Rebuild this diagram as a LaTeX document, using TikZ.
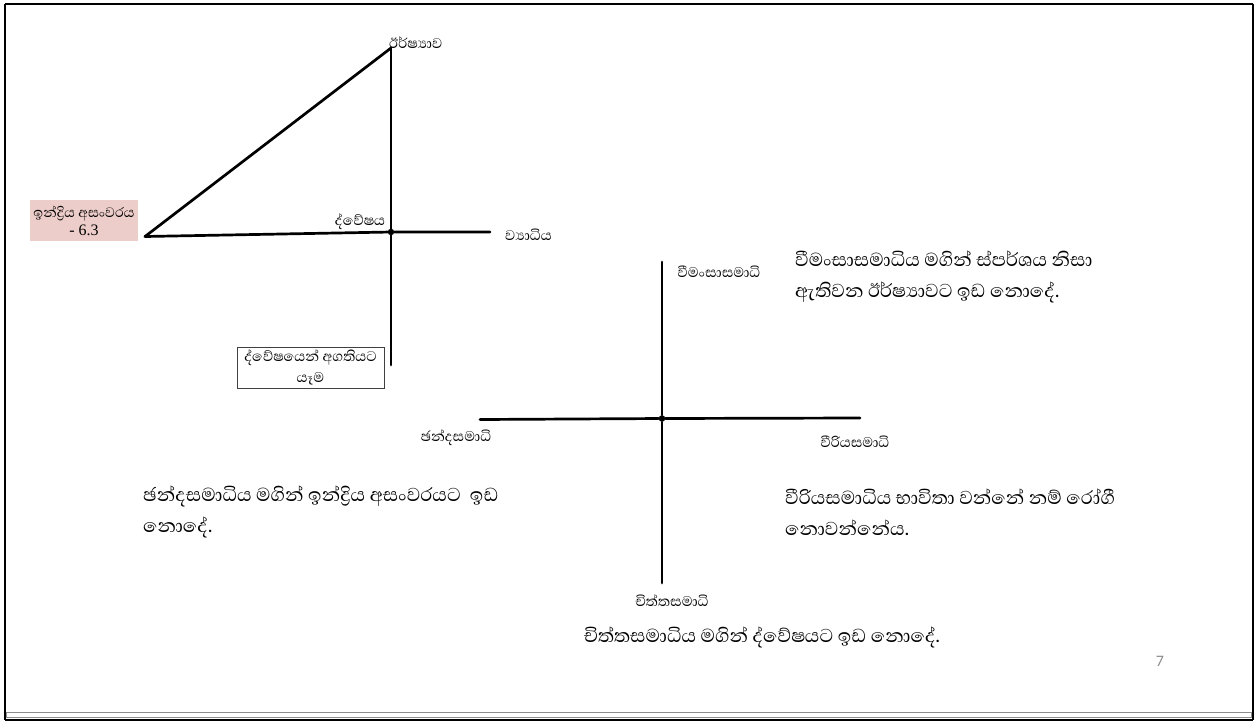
\documentclass[tikz,border=0pt]{standalone}
\usepackage{fontspec}
\newfontfamily\sinhalafont[Script=Sinhala]{Abhaya Libre}
\newfontfamily\numfont{Liberation Serif}
\newfontfamily\pagefont{Carlito}
\definecolor{boxpink}{HTML}{EDCDC9}
\definecolor{pagegray}{HTML}{8C8C8C}
\begin{document}
\begin{tikzpicture}[x=1pt,y=-1pt,
  axis/.style={line width=2.7pt, line cap=round},
  hub/.style={circle, fill=black, inner sep=0pt, minimum size=6.5pt},
  lbl/.style={inner sep=0pt, font=\sinhalafont\fontsize{18}{20}\selectfont},
  para/.style={inner sep=0pt, anchor=west, align=left, font=\sinhalafont\fontsize{24}{31}\selectfont},
  framebox/.style={draw=black!75, line width=0.7pt, align=center, inner sep=2pt}]
\useasboundingbox (0,0) rectangle (1254,721);
% page frame
\draw[line width=2pt] (5,3.7) -- (1253,3.7);
\draw[line width=2pt] (5,3.7) -- (5,720);
\draw[line width=1.5pt] (1253,3.7) -- (1253,720);
\draw[line width=2pt] (5,720) -- (1253,720);
\draw[pagegray, line width=0.8pt] (6,712) rectangle (1251,717);

% upper figure
\coordinate (apex) at (391,48);
\coordinate (left) at (145,236.5);
\coordinate (right) at (490,232);
\coordinate (bottom) at (391,365);
\node[hub] (c1) at (391,232) {};
\draw[axis] (left) -- (apex);
\draw[axis] (apex) -- (c1) -- (bottom);
\draw[axis] (left) -- (c1) -- (right);

\node[lbl, anchor=west] (irsha) at (389,43) {ඊර්ෂ්‍යාව};
\node[lbl] (dvesha) at (360,222) {ද්වේෂය};
\node[lbl, anchor=west] (vyadhi) at (505,235) {ව්‍යාධිය};
\node[fill=boxpink, inner sep=2pt, align=center, minimum width=108pt, minimum height=41pt,
      font=\sinhalafont\fontsize{17.5}{18}\selectfont] (indri) at (84,220.5)
  {ඉන්ද්‍රිය අසංවරය\\{\numfont\fontsize{16}{18}\selectfont - 6.3}};
\node[framebox, font=\sinhalafont\fontsize{18}{21}\selectfont, minimum width=147pt, minimum height=41pt] (agati) at (310.5,367.5)
  {ද්වේෂයෙන් අගතියට\\යෑම};

% lower figure
\coordinate (ntop) at (662,262);
\coordinate (nbot) at (662,583);
\coordinate (nleft) at (480,419.5);
\coordinate (nright) at (860,418);
\node[hub] (c2) at (662,418.5) {};
\draw[axis] (ntop) -- (c2) -- (nbot);
\draw[axis] (nleft) -- (c2) -- (nright);

\node[lbl] (vimansa) at (719,272) {වීමංසාසමාධි};
\node[lbl] (chanda) at (456,438) {ඡන්දසමාධි};
\node[lbl] (viriya) at (855,442) {වීරියසමාධි};
\node[lbl] (chitta) at (672,601) {චිත්තසමාධි};

\node[para] (p1) at (795,277) {වීමංසාසමාධිය මගින් ස්පර්ශය නිසා\\ඇතිවන ඊර්ෂ්‍යාවට ඉඩ නොදේ.};
\node[para] (p2) at (143,512) {ඡන්දසමාධිය මගින් ඉන්ද්‍රිය අසංවරයට~ ඉඩ\\නොදේ.};
\node[para] (p3) at (785,512) {වීරියසමාධිය භාවිතා වන්නේ නම් රෝගී\\නොවන්නේය.};
\node[para, anchor=center] (p4) at (762,637) {චිත්තසමාධිය මගින් ද්වේෂයට ඉඩ නොදේ.};

\node[font=\pagefont\fontsize{16}{18}\selectfont, text=pagegray] (pg) at (1160,661) {7};
\end{tikzpicture}
\end{document}
